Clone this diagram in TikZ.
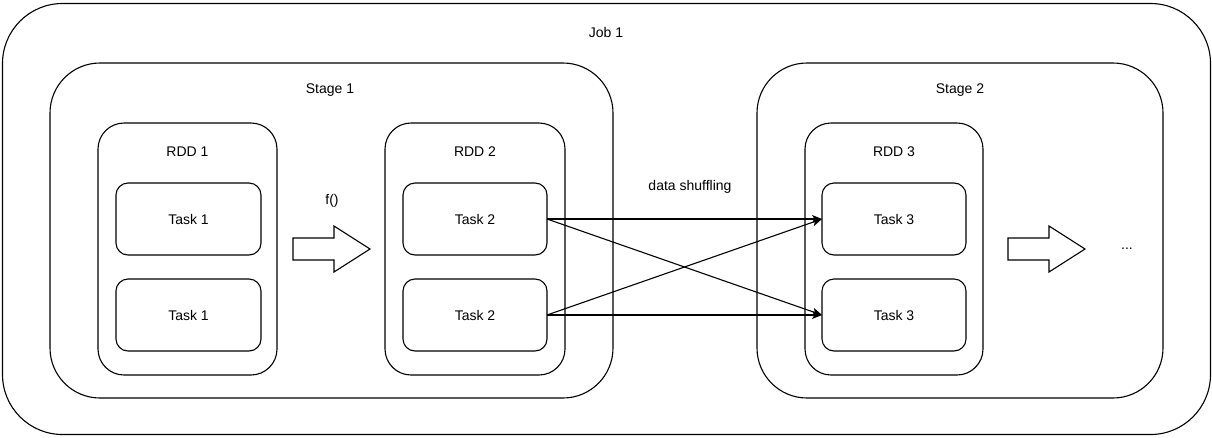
\documentclass[tikz,border=0pt]{standalone}
\usepackage{fontspec}
\setmainfont{Liberation Sans}
\usetikzlibrary{arrows.meta}
\begin{document}
\begin{tikzpicture}[x=1pt,y=-1pt,
  frame/.style={draw, line width=1.1pt, rounded corners=#1, inner sep=0pt, outer sep=0pt},
  taskbox/.style={frame=12pt, minimum width=144pt, minimum height=72pt,
    font=\fontsize{14}{16}\selectfont},
  lbl/.style={inner sep=0pt, font=\fontsize{14}{16}\selectfont},
  link/.style={line width=1.1pt, -{Stealth[length=10pt,width=8pt,inset=2.5pt]}},
  blockarrow/.pic={\draw[line width=1.1pt, line join=miter]
    (0,-11) -- (41,-11) -- (41,-23) -- (77,0) -- (41,23) -- (41,11) -- (0,11) -- cycle;}]
\useasboundingbox (0,0) rectangle (1212,437);

% containers
\node[frame=60pt, minimum width=1208pt, minimum height=431pt] (job) at (606.5,219) {};
\node[frame=50pt, minimum width=563pt, minimum height=335pt] (stage1) at (331.5,230.5) {};
\node[frame=50pt, minimum width=406pt, minimum height=335pt] (stage2) at (960,230.5) {};
\node[frame=26pt, minimum width=179pt, minimum height=252pt] (rdd1) at (187.5,249) {};
\node[frame=26pt, minimum width=180pt, minimum height=252pt] (rdd2) at (475,249) {};
\node[frame=26pt, minimum width=178pt, minimum height=252pt] (rdd3) at (894,249) {};

% container titles
\node[lbl] (jobtitle) at (606,32) {Job 1};
\node[lbl] (s1title) at (330,90) {Stage 1};
\node[lbl] (s2title) at (960,90) {Stage 2};
\node[lbl] (r1title) at (187.5,152) {RDD 1};
\node[lbl] (r2title) at (475,152) {RDD 2};
\node[lbl] (r3title) at (894,152) {RDD 3};

% tasks
\node[taskbox, minimum width=145pt] (t1a) at (188.5,219) {Task 1};
\node[taskbox, minimum width=145pt] (t1b) at (188.5,315) {Task 1};
\node[taskbox] (t2a) at (475,219) {Task 2};
\node[taskbox] (t2b) at (475,315) {Task 2};
\node[taskbox] (t3a) at (894,219) {Task 3};
\node[taskbox] (t3b) at (894,315) {Task 3};

% transformations
\pic at (293,249) {blockarrow};
\node[lbl] (fn) at (332,201) {f()};
\pic at (1008,249) {blockarrow};
\node[lbl] (more) at (1127,249) {...};

% shuffle between stages
\node[lbl] (shuffle) at (690,187) {data shuffling};
\draw[link] (t2a.east) -- (t3a.west);
\draw[link] (t2a.east) -- (t3b.west);
\draw[link] (t2b.east) -- (t3a.west);
\draw[link] (t2b.east) -- (t3b.west);
\end{tikzpicture}
\end{document}
